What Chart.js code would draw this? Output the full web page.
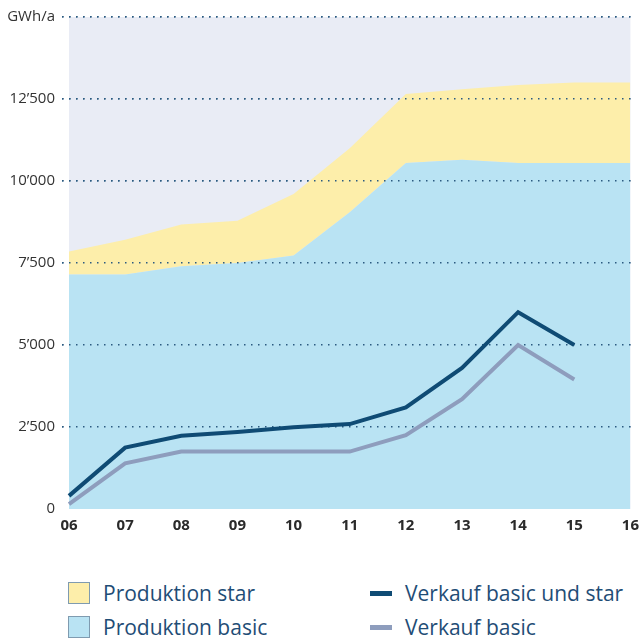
<!DOCTYPE html>
<html>
<head>
<meta charset="utf-8">
<script src="https://cdn.jsdelivr.net/npm/chart.js@4.4.1/dist/chart.umd.min.js"></script>
<style>
  html, body { margin: 0; padding: 0; background: #ffffff; }
  body { width: 639px; height: 638px; position: relative; overflow: hidden; font-family: 'Open Sans', sans-serif; }
  #wrap { position: absolute; left: 0; top: 0; width: 639px; height: 540px; }
  .leg { position: absolute; display: flex; align-items: center; color: #1f4d76; font-size: 21px; white-space: nowrap; }
  .sq { width: 20px; height: 20px; border: 1px solid #7f9bb0; margin-right: 13px; }
  .ln { width: 22px; height: 5px; margin-right: 13px; }
</style>
</head>
<body>
<div id="wrap"><canvas id="chart"></canvas></div>

<div class="leg" style="left:68px; top:579px;"><div class="sq" style="background:#fdeeaa"></div>Produktion star</div>
<div class="leg" style="left:68px; top:613px;"><div class="sq" style="background:#b9e3f3"></div>Produktion basic</div>
<div class="leg" style="left:370px; top:579px;"><div class="ln" style="background:#0f4b74"></div>Verkauf basic und star</div>
<div class="leg" style="left:370px; top:613px;"><div class="ln" style="background:#8e9dbd"></div>Verkauf basic</div>

<script>
// --- Daten ---
const jahre = ['06', '07', '08', '09', '10', '11', '12', '13', '14', '15', '16'];
const produktionBasic = [7150, 7150, 7400, 7500, 7730, 9050, 10550, 10650, 10550, 10550, 10550];
const produktionStar = [700, 1060, 1270, 1290, 1870, 1950, 2100, 2150, 2380, 2450, 2450];
const verkaufBasicStar = [400, 1870, 2235, 2350, 2490, 2590, 3100, 4300, 6000, 5000, null];
const verkaufBasic = [150, 1390, 1750, 1750, 1750, 1750, 2250, 3350, 5000, 3950, null];
const yTicks = [0, 2500, 5000, 7500, 10000, 12500, 15000];

// Hintergrund der Plotfläche
const plotBackground = {
    id: 'plotBackground',
    beforeDraw(chart) {
        const { ctx, chartArea: a } = chart;
        ctx.save();
        ctx.fillStyle = '#e9ecf5';
        ctx.fillRect(a.left, a.top, a.right - a.left, a.bottom - a.top);
        ctx.restore();
    }
};

// Gitterlinien über den Flächen, aber unter den Linien zeichnen
const gridOverAreas = {
    id: 'gridOverAreas',
    beforeDatasetDraw(chart, args) {
        if (args.index === 2) {
            chart.scales.y.drawGrid(chart.chartArea);
        }
    }
};

function fmt(v) {
    if (v === 15000) return 'GWh/a';
    if (v < 1000) return String(v);
    const s = String(v);
    return s.slice(0, s.length - 3) + '\u2019' + s.slice(-3);
}

new Chart(document.getElementById('chart').getContext('2d'), {
    type: 'line',
    data: {
        labels: jahre,
        datasets: [
            {
                label: 'Produktion basic',
                data: produktionBasic,
                stack: 'prod',
                fill: 'origin',
                backgroundColor: '#b9e3f3',
                borderWidth: 0,
                pointRadius: 0,
                tension: 0,
                order: 3
            },
            {
                label: 'Produktion star',
                data: produktionStar,
                stack: 'prod',
                fill: '-1',
                backgroundColor: '#fdeeaa',
                borderWidth: 0,
                pointRadius: 0,
                tension: 0,
                order: 4
            },
            {
                label: 'Verkauf basic',
                data: verkaufBasic,
                stack: 'vb',
                fill: false,
                borderColor: '#8e9dbd',
                borderWidth: 4,
                pointRadius: 0,
                tension: 0,
                order: 2
            },
            {
                label: 'Verkauf basic und star',
                data: verkaufBasicStar,
                stack: 'vbs',
                fill: false,
                borderColor: '#0f4b74',
                borderWidth: 4,
                pointRadius: 0,
                tension: 0,
                order: 1
            }
        ]
    },
    options: {
        responsive: true,
        maintainAspectRatio: false,
        animation: false,
        layout: { padding: { top: 17, left: 0, right: 0, bottom: 0 } },
        plugins: {
            legend: { display: false },
            tooltip: { enabled: false }
        },
        scales: {
            x: {
                offset: false,
                grid: { display: false },
                border: { display: false },
                ticks: {
                    color: '#2a2a2a',
                    font: { family: "'Open Sans', sans-serif", size: 15, weight: 'bold' },
                    padding: 0,
                    maxRotation: 0,
                    autoSkip: false
                },
                afterFit(scale) { scale.height = 31; }
            },
            y: {
                stacked: true,
                min: 0,
                max: 15000,
                afterBuildTicks(scale) { scale.ticks = yTicks.map(v => ({ value: v })); },
                grid: {
                    color: ctx => (ctx.tick && ctx.tick.value === 0) ? 'rgba(0,0,0,0)' : '#2b5a80',
                    lineWidth: 1.5,
                    tickLength: 7,
                    tickBorderDash: [1.5, 5.5]
                },
                border: { display: false, dash: [1.5, 5.5] },
                ticks: {
                    color: '#333333',
                    font: { family: "'Open Sans', sans-serif", size: 15 },
                    padding: 7,
                    callback: v => fmt(v)
                },
                afterFit(scale) { scale.width = 69; }
            }
        }
    },
    plugins: [plotBackground, gridOverAreas]
});
</script>
</body>
</html>
